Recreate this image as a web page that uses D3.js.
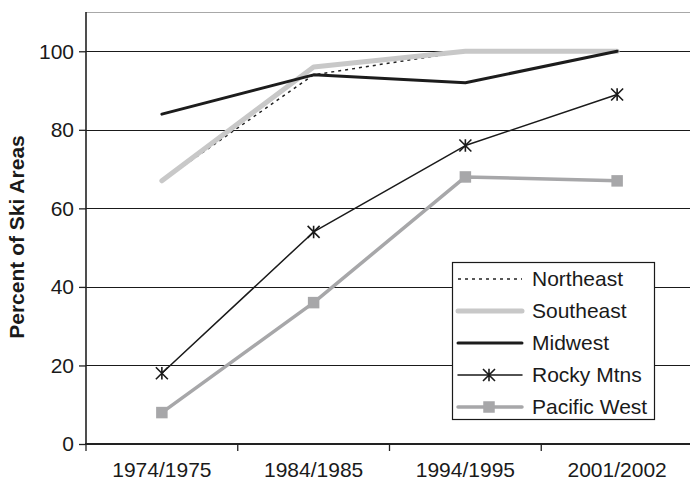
<!DOCTYPE html>
<html>
<head>
<meta charset="utf-8">
<script src="https://cdn.jsdelivr.net/npm/d3@7"></script>
<style>
  html, body { margin: 0; padding: 0; background: #fff; }
  svg { display: block; font-family: "Liberation Sans", Arial, Helvetica, sans-serif; }
</style>
</head>
<body>
<svg id="chart" width="690" height="481"></svg>
<script>
// Share of ski areas by region, by season
const seasons = ["1974/1975", "1984/1985", "1994/1995", "2001/2002"];
const northeast = [67, 94, 100, 100];
const southeast = [67, 96, 100, 100];
const midwest = [84, 94, 92, 100];
const rockyMtns = [18, 54, 76, 89];
const pacificWest = [8, 36, 68, 67];
const yTicks = [0, 20, 40, 60, 80, 100];
const yTitle = "Percent of Ski Areas";

const series = [
  { name: "Northeast", values: northeast, stroke: "#222", width: 1.5, dash: "3,4", marker: null },
  { name: "Southeast", values: southeast, stroke: "#c8c8c8", width: 5, dash: null, marker: null },
  { name: "Midwest", values: midwest, stroke: "#1c1c1c", width: 3, dash: null, marker: null },
  { name: "Rocky Mtns", values: rockyMtns, stroke: "#1a1a1a", width: 1.5, dash: null, marker: "star" },
  { name: "Pacific West", values: pacificWest, stroke: "#a7a7a9", width: 3.5, dash: null, marker: "square" }
];

const svg = d3.select("#chart");
const plot = { left: 86, top: 12, right: 693, bottom: 444 };

const x = d3.scaleBand().domain(seasons).range([plot.left, plot.right]);
const cx = d => x(d) + x.bandwidth() / 2;
const y = d3.scaleLinear().domain([0, 110]).range([plot.bottom, plot.top]);

// plot frame (top edge)
svg.append("line")
  .attr("x1", plot.left).attr("x2", plot.right)
  .attr("y1", plot.top + 0.5).attr("y2", plot.top + 0.5)
  .attr("stroke", "#a8a8a8").attr("stroke-width", 1.2);

// horizontal gridlines
svg.append("g")
  .selectAll("line")
  .data(yTicks.filter(t => t > 0))
  .join("line")
  .attr("x1", plot.left).attr("x2", plot.right)
  .attr("y1", d => Math.round(y(d)) + 0.5).attr("y2", d => Math.round(y(d)) + 0.5)
  .attr("stroke", "#1a1a1a").attr("stroke-width", 1.1);

// y axis
const yAxis = svg.append("g")
  .attr("transform", `translate(${plot.left},0)`)
  .call(d3.axisLeft(y).tickValues(yTicks).tickSize(7).tickPadding(5).tickFormat(d3.format("d")));
yAxis.select(".domain").attr("stroke", "#222").attr("stroke-width", 1.6)
  .attr("d", `M0,${plot.top}V${plot.bottom}`);
yAxis.selectAll(".tick line").attr("stroke", "#222").attr("stroke-width", 1.3);
yAxis.selectAll(".tick text").attr("font-size", 21).attr("fill", "#1a1a1a")
  .attr("font-family", "'Liberation Sans', Arial, sans-serif");

// x axis
const xAxis = svg.append("g")
  .attr("transform", `translate(0,${plot.bottom})`)
  .call(d3.axisBottom(x).tickSize(0).tickPadding(18));
xAxis.select(".domain").remove();
xAxis.append("line")
  .attr("x1", plot.left - 1).attr("x2", plot.right)
  .attr("stroke", "#222").attr("stroke-width", 2);
// tick marks at band boundaries
xAxis.selectAll("line.bound")
  .data(seasons)
  .join("line")
  .attr("class", "bound")
  .attr("x1", d => x(d)).attr("x2", d => x(d))
  .attr("y1", 0).attr("y2", 7)
  .attr("stroke", "#222").attr("stroke-width", 1.3);
xAxis.selectAll(".tick text").attr("font-size", 21).attr("fill", "#1a1a1a")
  .attr("font-family", "'Liberation Sans', Arial, sans-serif");

// y axis title
svg.append("text")
  .attr("transform", `translate(16,237) rotate(-90)`)
  .attr("text-anchor", "middle")
  .attr("dominant-baseline", "central")
  .attr("font-size", 21).attr("font-weight", "bold").attr("fill", "#1a1a1a")
  .text(yTitle);

// marker shapes
function drawStar(g, px, py, stroke) {
  const r = 6;
  const p = `M${px - r},${py - r}L${px + r},${py + r}M${px - r},${py + r}L${px + r},${py - r}M${px},${py - r * 1.05}L${px},${py + r * 1.05}`;
  g.append("path").attr("d", p).attr("stroke", stroke).attr("stroke-width", 1.6).attr("fill", "none");
}
function drawSquare(g, px, py, fill) {
  const s = 11.5;
  g.append("rect").attr("x", px - s / 2).attr("y", py - s / 2)
    .attr("width", s).attr("height", s).attr("fill", fill);
}

const line = d3.line().x((d, i) => cx(seasons[i])).y(d => y(d));

// series lines and markers
const lines = svg.append("g");
series.forEach(s => {
  const g = lines.append("g");
  g.append("path")
    .attr("d", line(s.values))
    .attr("fill", "none")
    .attr("stroke", s.stroke)
    .attr("stroke-width", s.width)
    .attr("stroke-linecap", s.dash ? "butt" : "round")
    .attr("stroke-linejoin", "round")
    .attr("stroke-dasharray", s.dash);
  s.values.forEach((v, i) => {
    if (s.marker === "star") drawStar(g, cx(seasons[i]), y(v), s.stroke);
    if (s.marker === "square") drawSquare(g, cx(seasons[i]), y(v), s.stroke);
  });
});

// legend
const lg = svg.append("g");
lg.append("rect")
  .attr("x", 452.5).attr("y", 262.5).attr("width", 202).attr("height", 157)
  .attr("fill", "#fff").attr("stroke", "#1a1a1a").attr("stroke-width", 1.2);
series.forEach((s, i) => {
  const ly = 279 + i * 32;
  lg.append("line")
    .attr("x1", 458).attr("x2", 522).attr("y1", ly).attr("y2", ly)
    .attr("stroke", s.stroke).attr("stroke-width", s.width)
    .attr("stroke-linecap", s.dash ? "butt" : "round")
    .attr("stroke-dasharray", s.dash);
  if (s.marker === "star") drawStar(lg, 489, ly, s.stroke);
  if (s.marker === "square") drawSquare(lg, 489, ly, s.stroke);
  lg.append("text")
    .attr("x", 532).attr("y", ly).attr("dy", "0.35em")
    .attr("font-size", 21).attr("fill", "#1a1a1a")
    .text(s.name);
});
</script>
</body>
</html>
